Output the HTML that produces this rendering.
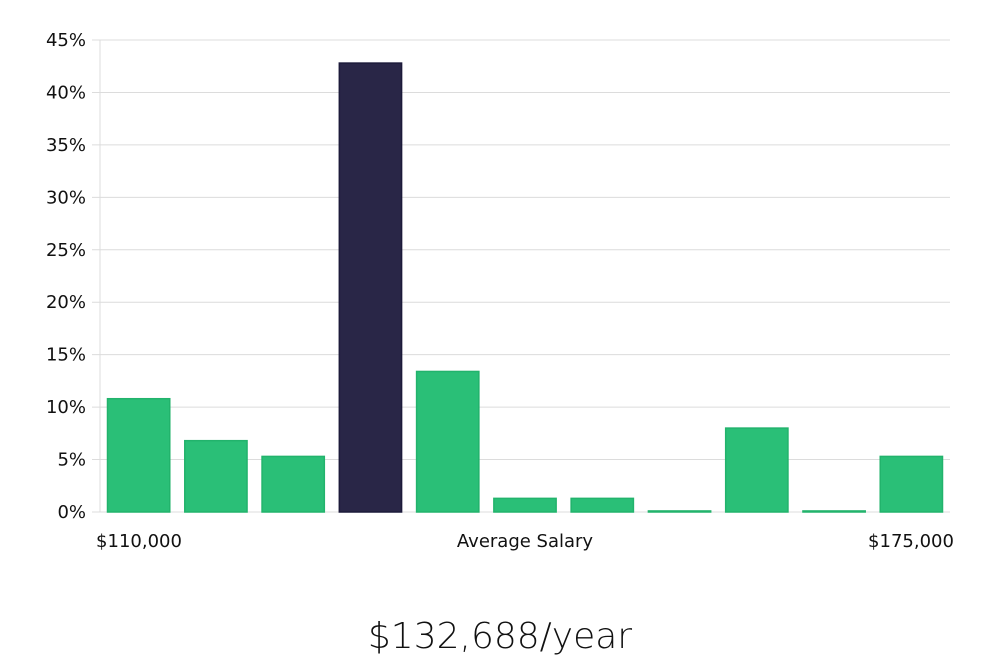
<!DOCTYPE html>
<html><head><meta charset="utf-8">
<style>
html,body{margin:0;padding:0;background:#fff;}
body{width:1000px;height:660px;overflow:hidden;font-family:"DejaVu Sans","Liberation Sans",sans-serif;}
svg text{font-family:"DejaVu Sans","Liberation Sans",sans-serif;}
</style></head>
<body>
<svg id="chart" width="1000" height="660" xmlns="http://www.w3.org/2000/svg">
<g id="grid"></g>
<g id="yticks"></g>
<g id="bars"></g>
<text x="139" y="547" font-size="18" text-anchor="middle" fill="#111">$110,000</text>
<text x="525" y="547" font-size="18" text-anchor="middle" fill="#111">Average Salary</text>
<text x="911" y="547" font-size="18" text-anchor="middle" fill="#111">$175,000</text>
<text x="500" y="648" font-size="36" font-weight="300" text-anchor="middle" fill="#111">$132,688/year</text>
</svg>
<script>
const values = [10.8, 6.8, 5.3, 42.8, 13.4, 1.3, 1.3, 0.1, 8.0, 0.1, 5.3];
const highlightIndex = [3];
const yTicks = [0, 5, 10, 15, 20, 25, 30, 35, 40, 45];
const yTickLabels = ["0%","5%","10%","15%","20%","25%","30%","35%","40%","45%"];

const NS = "http://www.w3.org/2000/svg";
const x0 = 100, x1 = 950, yBase = 512, yTop = 40, yMax = 45;
const yScale = v => yBase - (v / yMax) * (yBase - yTop);
const slot = (x1 - x0) / values.length;
const xScale = i => x0 + i * slot;

const grid = document.getElementById('grid');
const yt = document.getElementById('yticks');
yTicks.forEach((t, i) => {
  const y = yScale(t);
  const l = document.createElementNS(NS, 'line');
  
  
  l.setAttribute('x1', x0 - 8); l.setAttribute('x2', x1);
  l.setAttribute('y1', y); l.setAttribute('y2', y);
  l.setAttribute('stroke', '#dcdcdc'); l.setAttribute('stroke-width', '1');
  grid.appendChild(l);
  const tx = document.createElementNS(NS, 'text');
  
  
  tx.setAttribute('x', 86); tx.setAttribute('y', y + 6);
  tx.setAttribute('font-size', '18'); tx.setAttribute('text-anchor', 'end');
  tx.setAttribute('fill', '#111');
  tx.textContent = yTickLabels[i];
  yt.appendChild(tx);
});
const ax = document.createElementNS(NS, 'line');


ax.setAttribute('x1', x0); ax.setAttribute('x2', x0);
ax.setAttribute('y1', yTop); ax.setAttribute('y2', yBase);
ax.setAttribute('stroke', '#dcdcdc');
grid.appendChild(ax);

const bars = document.getElementById('bars');
values.forEach((v, i) => {
  const r = document.createElementNS(NS, 'rect');
  
  
  const hi = highlightIndex.includes(i);
  const y = yScale(v);
  r.setAttribute('x', xScale(i) + 7.5);
  r.setAttribute('width', slot - 15);
  r.setAttribute('y', y);
  r.setAttribute('height', Math.max(yBase - y, 1));
  r.setAttribute('fill', hi ? '#292647' : '#2abf77');
  r.setAttribute('stroke', hi ? '#1c1a3a' : '#22b36c');
  r.setAttribute('stroke-width', '1.5');
  bars.appendChild(r);
});
</script>
</body></html>
